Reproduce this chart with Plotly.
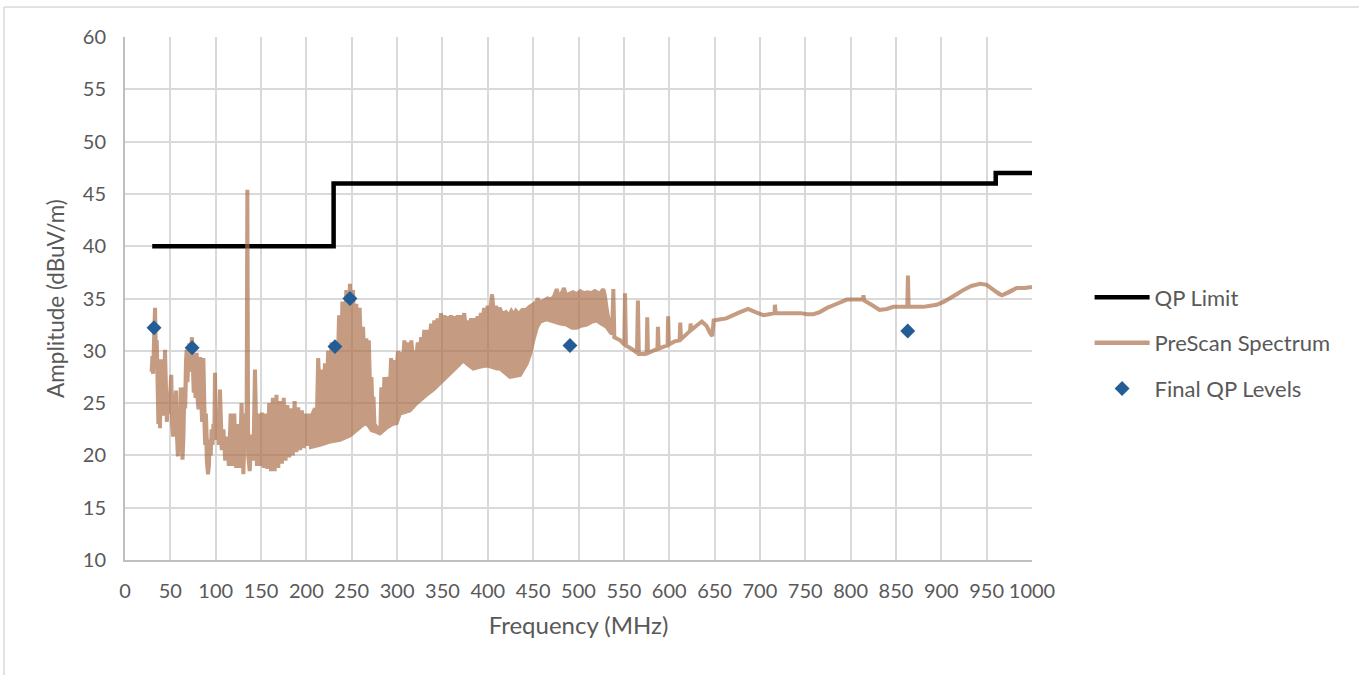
import plotly.graph_objects as go

# ---------------- data ----------------
limit_freq = [30, 230, 230, 960, 960, 1000]
limit_amp = [40, 40, 46, 46, 47, 47]

final_freq = [32, 74, 231.5, 248, 490.6, 863]
final_amp = [32.2, 30.3, 30.4, 35.0, 30.5, 31.9]

# sparse, spiky part of the prescan (30-205 MHz)
sparse_freq = [29.4, 30.2, 31.0, 32.0, 33.1, 34.0, 35.0, 36.0, 36.8, 37.8, 38.6, 39.6, 40.6, 41.6, 42.6,
               44.1, 45.2, 46.2, 47.2, 48.2, 49.5, 51.0, 52.0, 53.0, 54.5, 56.2, 57.2, 58.3, 59.3, 60.3,
               61.4, 62.4, 63.4, 64.5, 65.5, 66.3, 67.2, 68.0, 68.8, 69.8, 71.0, 71.8, 72.8, 73.8, 74.8,
               75.8, 76.8, 77.8, 79.0, 80.0, 81.0, 82.0, 83.0, 84.0, 85.0, 86.4, 87.4, 88.4, 89.2, 90.2,
               91.5, 92.5, 93.5, 94.5, 95.5, 96.5, 97.5, 98.5, 99.2, 100.2, 101.2, 102.5, 103.5, 104.7,
               105.8, 106.8, 108.5, 110.5, 112.5, 114.5, 116.5, 118.5, 120.5, 122.5, 124.5, 126.5, 128.5,
               130.5, 132.5, 134.0, 134.9, 135.8, 137.5, 139.5, 141.5, 143.3, 145.5, 147.5, 149.0, 151.0,
               153.0, 155.0, 157.0, 159.0, 161.0, 163.0, 165.0, 167.0, 169.0, 171.0, 173.0, 175.0, 177.0,
               179.0, 181.0, 183.0, 185.0, 187.0, 189.0, 191.0, 193.0, 195.0, 197.0, 199.0, 201.0, 203.0,
               205.0]
sparse_amp = [28.0, 29.5, 27.8, 31.0, 34.1, 30.0, 31.0, 27.0, 23.0, 25.5, 22.6, 29.2, 24.5, 27.0, 23.8,
              30.1, 25.5, 23.2, 26.0, 24.0, 25.5, 27.7, 23.0, 21.8, 24.0, 26.2, 22.0, 19.9, 22.5, 20.5,
              26.5, 21.5, 19.6, 22.0, 26.5, 24.5, 29.0, 30.1, 27.0, 29.5, 30.7, 28.0, 29.5, 31.3, 28.5,
              26.0, 27.0, 25.5, 29.8, 25.5, 24.4, 26.0, 29.4, 25.5, 23.2, 29.3, 23.5, 21.0, 24.0, 19.5,
              18.2, 19.0, 21.5, 20.0, 22.5, 21.0, 23.0, 22.0, 27.9, 22.0, 21.5, 23.5, 21.0, 26.3,
              21.5, 20.5, 22.5, 19.5, 21.8, 19.0, 24.0, 19.0, 24.0, 18.8, 23.0, 18.8, 25.0,
              18.2, 24.0, 21.0, 45.4, 20.0, 18.5, 22.0, 19.5, 28.2, 19.0, 24.0, 19.0, 24.1,
              18.8, 24.0, 18.7, 25.0, 18.5, 25.5, 18.5, 25.8, 18.8, 25.2, 19.2, 25.5, 19.5,
              24.8, 19.8, 24.5, 20.0, 25.2, 20.3, 24.6, 20.5, 24.3, 20.7, 24.0, 20.9, 24.0,
              21.0]

# dense band (205-537 MHz): upper edge with spikes
band_top_freq = [207.0, 209.5, 211.5, 213.0, 215.0, 216.8, 218.7, 220.5, 222.3, 224.0, 226.0, 227.8, 230.0,
                 232.5, 234.3, 236.0, 238.0, 239.7, 242.0, 244.0, 246.0, 248.0, 249.7, 251.4, 253.2, 255.0,
                 257.0, 258.7, 260.5, 262.4, 264.2, 266.0, 267.5, 268.8, 270.3, 271.7, 272.8, 274.0, 275.0,
                 278.0, 281.5, 282.6, 284.3, 286.0, 288.0, 290.0, 291.7, 293.4, 295.2, 297.0, 299.0, 300.9,
                 302.8, 304.6, 306.3, 308.0, 310.0, 312.0, 314.0, 315.7, 317.5, 319.0, 321.0, 322.8, 324.7,
                 326.5, 328.3, 330.0, 332.0, 333.8, 335.7, 337.5, 339.3, 341.0, 343.0, 344.7, 346.5, 348.4,
                 350.2, 352.0, 354.0, 355.7, 357.5, 359.4, 361.2, 363.0, 365.0, 366.8, 368.6, 370.4, 372.2,
                 374.0, 376.0, 377.8, 379.6, 381.5, 383.3, 385.0, 387.0, 388.8, 390.6, 392.5, 394.3, 396.0,
                 398.0, 399.9, 402.3, 404.7, 406.8, 409.0, 411.0, 413.0, 416.0, 420.0, 423.0, 426.0, 429.0,
                 431.0, 434.0, 438.0, 442.0, 446.0, 450.0, 453.0, 455.0, 457.0, 462.0, 466.0, 470.0, 473.0,
                 476.0, 478.0, 481.0, 484.0, 486.0, 490.0, 494.0, 498.0, 502.0, 506.0, 510.0, 514.0, 518.0,
                 522.0, 525.0, 527.4, 529.0, 532.0, 535.0, 537.0]
band_top_amp = [24.0, 24.5, 23.5, 29.3, 25.0, 28.2, 25.0, 28.8, 25.5, 30.0, 26.0, 30.8, 27.0,
                30.4, 27.5, 33.4, 28.0, 34.7, 29.0, 35.8, 30.0, 36.4, 31.0, 35.8, 30.5, 34.5,
                30.0, 34.1, 29.5, 32.3, 28.5, 31.2, 28.0, 31.0, 26.0, 27.5, 24.5, 25.6, 23.0,
                22.6, 22.2, 26.5, 23.5, 27.5, 24.5, 27.5, 25.5, 29.3, 26.5, 29.1, 27.5, 30.0,
                28.0, 29.9, 28.5, 31.0, 29.0, 30.8, 29.2, 31.0, 29.0, 30.0, 29.3, 30.8, 29.5,
                31.3, 30.0, 32.0, 30.5, 32.0, 30.8, 32.6, 31.0, 32.9, 31.3, 33.1, 31.5, 33.6,
                32.0, 33.4, 32.0, 33.3, 32.2, 33.4, 32.0, 33.3, 32.2, 33.4, 32.3, 33.4, 32.5,
                33.6, 32.0, 32.9, 32.2, 33.1, 32.3, 33.1, 32.5, 33.3, 32.6, 33.6, 33.0, 34.1,
                33.2, 34.3, 33.5, 35.4, 33.5, 34.3, 33.5, 34.1, 33.5, 33.7, 33.3, 33.8, 33.4,
                33.8, 33.5, 33.9, 33.9, 34.2, 34.4, 34.6, 35.0, 34.6, 34.8, 35.0, 34.9, 35.2,
                35.9, 35.2, 35.4, 36.0, 35.3, 35.5, 35.6, 35.4, 35.7, 35.5, 35.6, 35.5, 35.7,
                35.5, 35.6, 35.9, 35.3, 33.5, 32.2, 31.6]

# dense band: lower edge
band_floor_freq = [205, 215, 225, 237, 248, 256, 262, 266, 269, 272, 276, 281, 285, 289, 295, 299.5, 303,
                   314, 321.5, 332.5, 340, 347, 353, 358, 366, 373, 378, 384, 392, 399, 405, 410, 413.4,
                   419, 424.5, 435.5, 443, 447, 450.2, 454, 457.6, 465, 472, 480, 487, 493, 498, 503, 509,
                   515, 520, 525, 531, 535, 537]
band_floor_amp = [20.8, 21.0, 21.3, 21.5, 21.9, 22.5, 22.9, 23.1, 22.8, 22.4, 22.3, 22.1, 22.4, 22.7, 23.0,
                  23.1, 24.0, 24.3, 25.0, 25.8, 26.3, 26.9, 27.4, 27.9, 28.5, 29.1, 28.7, 28.3, 28.5, 28.6,
                  28.4, 28.3, 28.3, 27.9, 27.5, 27.7, 28.8, 29.8, 31.0, 32.2, 32.8, 33.0, 32.8, 32.6, 32.5,
                  32.2, 32.2, 32.4, 32.5, 32.8, 32.9, 32.6, 32.3, 31.8, 31.6]

# single trace part (537-1000 MHz)
tail_freq = [537, 538.4, 539.5, 546, 550.5, 551.3, 552.3, 560, 564.5, 565.5, 566.5, 572, 575.2, 575.8, 576.6,
             582, 587.0, 587.6, 588.4, 594, 598.2, 598.8, 599.6, 606, 611.5, 612.2, 613, 618, 623, 623.6,
             624.4, 630, 636, 641, 645, 647.5, 649, 655, 663, 670, 678, 687, 695, 704, 710, 716, 716.6,
             717.4, 725, 735, 745, 752, 759, 766, 774, 785, 796, 805, 813.5, 814.2, 815, 823, 832, 840,
             847, 855, 862.5, 863.2, 864, 870, 880, 888, 895, 903, 910, 917, 924, 933, 943, 950, 958, 964,
             967, 975, 983, 992, 1000]
tail_amp = [31.6, 35.9, 31.3, 31.0, 30.6, 35.5, 30.5, 30.1, 29.8, 34.8, 29.7, 29.7, 29.8, 33.2, 29.8,
            30.0, 30.2, 32.3, 30.2, 30.4, 30.5, 33.3, 30.6, 30.9, 31.0, 32.7, 31.1, 31.5, 31.9, 32.6,
            32.0, 32.4, 32.8, 32.4, 31.7, 31.4, 32.9, 33.0, 33.1, 33.4, 33.7, 34.0, 33.7, 33.4, 33.5, 33.6, 34.4,
            33.6, 33.6, 33.6, 33.6, 33.5, 33.5, 33.7, 34.1, 34.5, 34.9, 34.9, 34.9, 35.3, 34.8, 34.4, 33.9, 34.0,
            34.2, 34.2, 34.2, 37.2, 34.2, 34.2, 34.2, 34.3, 34.4, 34.7, 35.0, 35.4, 35.8, 36.2, 36.4, 36.3, 35.8, 35.4,
            35.3, 35.6, 36.0, 36.0, 36.1]

x_ticks = list(range(0, 1001, 50))
y_ticks = list(range(10, 61, 5))

# ---------------- figure ----------------
FONT = "Lato"
GREY = "#595959"
SPEC = "rgb(170,110,72)"

# outline of the whole spectrum: forward along the top, back along the floor
outline_f = (sparse_freq + band_top_freq + tail_freq
             + tail_freq[::-1] + band_floor_freq[::-1] + sparse_freq[::-1])
outline_a = (sparse_amp + band_top_amp + tail_amp
             + tail_amp[::-1] + band_floor_amp[::-1] + sparse_amp[::-1])

fig = go.Figure()

fig.add_trace(go.Scatter(
    x=limit_freq, y=limit_amp, mode="lines", name="QP Limit",
    line=dict(color="black", width=4.5), legendgroup="a"))

fig.add_trace(go.Scatter(
    x=outline_f, y=outline_a, mode="lines", fill="toself",
    fillcolor=SPEC, line=dict(color=SPEC, width=4, shape="linear"),
    opacity=0.68, showlegend=False, hoverinfo="skip"))

fig.add_trace(go.Scatter(
    x=[None], y=[None], mode="lines", name="PreScan Spectrum",
    line=dict(color="rgb(197,156,131)", width=4.5), legendgroup="b"))

fig.add_trace(go.Scatter(
    x=final_freq, y=final_amp, mode="markers", name="Final QP Levels",
    marker=dict(symbol="diamond", size=11.5, color="#245D96"), legendgroup="c"))

axis_common = dict(
    showgrid=True, gridcolor="#D9D9D9", gridwidth=2,
    showline=True, linecolor="#BFBFBF", linewidth=2,
    zeroline=False, ticks="", tickfont=dict(family=FONT, size=20, color=GREY),
)

fig.update_xaxes(
    range=[0, 1000], tickmode="array", tickvals=x_ticks, ticktext=[str(v) for v in x_ticks],
    tickangle=0, ticklabelstandoff=12,
    title=dict(text="Frequency (MHz)", font=dict(family=FONT, size=24, color=GREY), standoff=16),
    **axis_common)
fig.update_yaxes(
    range=[10, 60], tickmode="array", tickvals=y_ticks, ticktext=[str(v) for v in y_ticks],
    ticklabelstandoff=13,
    title=dict(text="Amplitude (dBuV/m)", font=dict(family=FONT, size=22.5, color=GREY), standoff=12),
    **axis_common)

fig.update_layout(
    width=1359, height=675,
    margin=dict(l=125, r=327, t=37, b=115),
    paper_bgcolor="white", plot_bgcolor="white",
    font=dict(family=FONT, color=GREY),
    legend=dict(x=1.0635, xanchor="left", y=0.415, yanchor="middle",
                font=dict(family=FONT, size=22, color=GREY),
                itemwidth=55, tracegroupgap=14, bgcolor="rgba(0,0,0,0)"),
    shapes=[
        dict(type="line", xref="paper", yref="paper", x0=-0.1334, x1=-0.1334, y0=1.0574, y1=-0.25,
             line=dict(color="#D9D9D9", width=1.5)),
        dict(type="line", xref="paper", yref="paper", x0=-0.1334, x1=1.40, y0=1.0574, y1=1.0574,
             line=dict(color="#D9D9D9", width=1.5)),
    ],
)

fig.write_html("out.html")
